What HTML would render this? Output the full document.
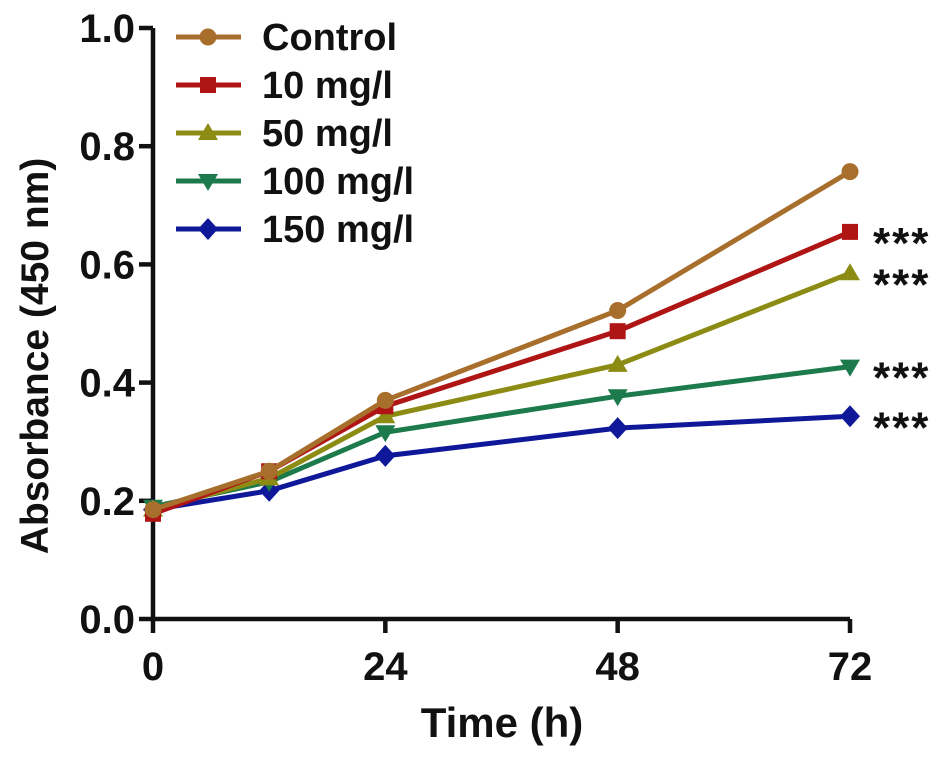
<!DOCTYPE html>
<html><head><meta charset="utf-8"><style>
body{margin:0;background:#fff}
svg text{font-family:"Liberation Sans",Arial,sans-serif;font-weight:bold;fill:#111}
</style></head><body>
<svg id="chart" width="945" height="757" xmlns="http://www.w3.org/2000/svg"></svg>
<script>
const times = [0, 12, 24, 48, 72];
const seriesNames = ["Control", "10 mg/l", "50 mg/l", "100 mg/l", "150 mg/l"];
const control = [0.185, 0.25, 0.37, 0.522, 0.757];
const mg10 = [0.178, 0.25, 0.36, 0.487, 0.655];
const mg50 = [0.185, 0.238, 0.343, 0.43, 0.585];
const mg100 = [0.19, 0.232, 0.316, 0.377, 0.427];
const mg150 = [0.185, 0.217, 0.276, 0.323, 0.343];
const yTicks = ["0.0", "0.2", "0.4", "0.6", "0.8", "1.0"];
const xTicks = [0, 24, 48, 72];
const sigLabels = ["", "***", "***", "***", "***"];

const colors = ["#a86e2c", "#b01515", "#8c8c14", "#1c7a4c", "#10189a"];
const markers = ["circle", "square", "tri-up", "tri-down", "diamond"];
const allSeries = [control, mg10, mg50, mg100, mg150];
const svg = document.getElementById('chart');
const NS = "http://www.w3.org/2000/svg";
const X0 = 153, X1 = 850, Y0 = 619, Y1 = 28;
const xs = t => X0 + (t / 72) * (X1 - X0);
const ys = v => Y0 - (v / 1.0) * (Y0 - Y1);
function mk(tag, attrs, parent) {
  const e = document.createElementNS(NS, tag);
  for (const k in attrs) e.setAttribute(k, attrs[k]);
  (parent || svg).appendChild(e);
  return e;
}
function marker(type, x, y, color, g) {
  let e;
  if (type === "circle") e = mk("circle", {cx: x, cy: y, r: 8.5, fill: color}, g);
  else if (type === "square") e = mk("rect", {x: x - 8, y: y - 8, width: 16, height: 16, fill: color}, g);
  else if (type === "tri-up") e = mk("polygon", {points: `${x},${y - 10} ${x - 10},${y + 7} ${x + 10},${y + 7}`, fill: color}, g);
  else if (type === "tri-down") e = mk("polygon", {points: `${x},${y + 10} ${x - 10},${y - 7} ${x + 10},${y - 7}`, fill: color}, g);
  else e = mk("polygon", {points: `${x},${y - 11} ${x + 10},${y} ${x},${y + 11} ${x - 10},${y}`, fill: color}, g);
  return e;
}
// axes
const ax = mk("path", {d: `M${X0},${Y1} V${Y0} H${X1}`, stroke: "#111", "stroke-width": 4.5, fill: "none"});


yTicks.forEach(t => {
  const y = ys(parseFloat(t));
  mk("line", {x1: X0 - 14, x2: X0, y1: y, y2: y, stroke: "#111", "stroke-width": 4.5});
  const tx = mk("text", {x: 135, y: y + 14, "text-anchor": "end", "font-size": 40});
  tx.textContent = t;
  
  
});
xTicks.forEach(t => {
  const x = xs(t);
  mk("line", {x1: x, x2: x, y1: Y0, y2: Y0 + 14, stroke: "#111", "stroke-width": 4.5});
  const tx = mk("text", {x: x, y: 680, "text-anchor": "middle", "font-size": 40});
  tx.textContent = t;
  
  
});
const xt = mk("text", {x: 502, y: 737, "text-anchor": "middle", "font-size": 42});
xt.textContent = "Time (h)";


const yt = mk("text", {x: 0, y: 0, "text-anchor": "middle", "font-size": 39, transform: "translate(48,356) rotate(-90)"});
yt.textContent = "Absorbance (450 nm)";


// series
for (let i = allSeries.length - 1; i >= 0; i--) {
  const g = mk("g", {});
  
  
  const d = allSeries[i].map((v, j) => (j ? "L" : "M") + xs(times[j]) + "," + ys(v)).join(" ");
  mk("path", {d: d, stroke: colors[i], "stroke-width": 5, fill: "none"}, g);
  allSeries[i].forEach((v, j) => {
    const m = marker(markers[i], xs(times[j]), ys(v), colors[i], g);
    
    
  });
  if (sigLabels[i]) {
    const s = mk("text", {x: 873, y: ys(allSeries[i][4]) + 26, "font-size": 44, "font-weight": "normal", "letter-spacing": 2});
    s.textContent = sigLabels[i];
    
    
  }
}
// legend
seriesNames.forEach((n, i) => {
  const y = 37 + i * 48;
  const g = mk("g", {});
  
  
  mk("line", {x1: 176, x2: 241, y1: y, y2: y, stroke: colors[i], "stroke-width": 5}, g);
  marker(markers[i], 208, y, colors[i], g);
  const t = mk("text", {x: 262, y: y + 13, "font-size": 38}, g);
  t.textContent = n;
});
</script>
</body></html>
